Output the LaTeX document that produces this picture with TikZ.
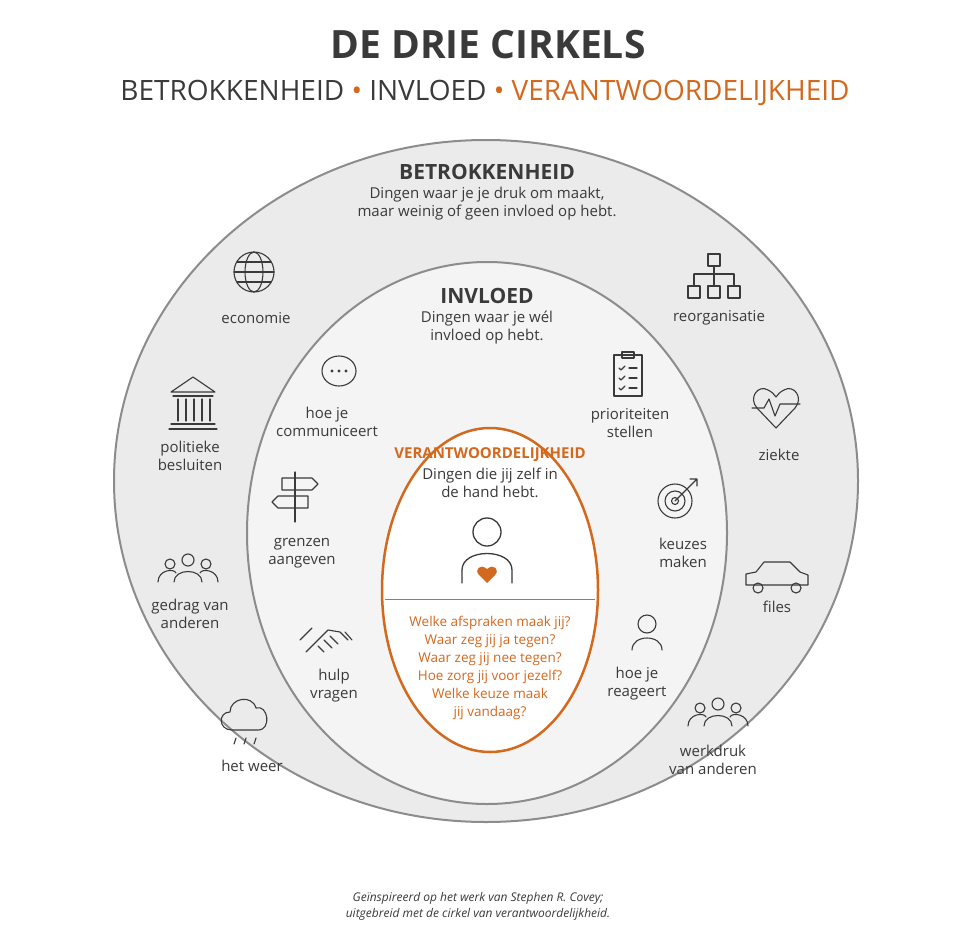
\documentclass[tikz,border=0pt]{standalone}
\usepackage{fontspec}
\setmainfont{Open Sans}
\usetikzlibrary{positioning}
\definecolor{oranje}{HTML}{D2691E}
\definecolor{rand}{HTML}{8C8C8C}
\definecolor{buiten}{HTML}{EBEBEB}
\definecolor{midden}{HTML}{F4F4F4}
\definecolor{inkt}{HTML}{3A3A3A}
\tikzset{
  lbl/.style={align=center,font=\fontsize{15}{18}\selectfont,text=inkt,inner sep=0.75pt},
  kop/.style={font=\fontsize{21}{24}\selectfont\bfseries,text=inkt,inner sep=0.75pt},
  icoon/.style={draw=inkt,line width=1.1pt,line cap=round,line join=round},
  vraag/.style={align=center,font=\fontsize{13.5}{18}\selectfont,text=oranje,inner sep=0.75pt}
}
\begin{document}
\begin{tikzpicture}[x=1pt,y=-1pt]
\useasboundingbox (0,0) rectangle (957,933);
\fill[white] (0,0) rectangle (957,933);

% circles
\draw[rand,line width=2pt,fill=buiten] (486,481) ellipse (372 and 341);
\draw[rand,line width=2pt,fill=midden] (487,533) ellipse (240 and 271);
\draw[oranje,line width=2.5pt,fill=white] (490,590) ellipse (108 and 162);
\coordinate (lijnL) at (385,599);
\coordinate (lijnR) at (595,599);
\draw[oranje,line width=1pt] (lijnL) -- (lijnR);

% title
\node[font=\fontsize{39}{44}\selectfont\bfseries,text=inkt] (titel) at (488,45) {DE DRIE CIRKELS};
\node[font=\fontsize{28}{33}\selectfont,text=inkt] (sub) at (485,93)
  {BETROKKENHEID \textcolor{oranje}{•} INVLOED \textcolor{oranje}{•} \textcolor{oranje}{VERANTWOORDELIJKHEID}};

% section headings
\node[kop] (betr) at (487,172) {BETROKKENHEID};
\node[lbl,below=5pt of betr] (betrtxt) {Dingen waar je je druk om maakt,\\maar weinig of geen invloed op hebt.};
\node[kop] (invl) at (487,296) {INVLOED};
\node[lbl,below=5pt of invl] (invltxt) {Dingen waar je wél\\invloed op hebt.};
\node[kop,text=oranje,font=\fontsize{15}{18}\selectfont\bfseries] (verant) at (490,455) {VERANTWOORDELIJKHEID};
\node[lbl,below=4pt of verant] (veranttxt) {Dingen die jij zelf in\\de hand hebt.};
\node[vraag] (vragen) at (490,668) {Welke afspraken maak jij?\\Waar zeg jij ja tegen?\\Waar zeg jij nee tegen?\\Hoe zorg jij voor jezelf?\\Welke keuze maak\\jij vandaag?};

% labels
\node[lbl] (econ) at (256,318) {economie};
\node[lbl] (pol) at (190,456) {politieke\\besluiten};
\node[lbl] (gedrag) at (190,614) {gedrag van\\anderen};
\node[lbl] (weer) at (252,766) {het weer};
\node[lbl] (reorg) at (719,318) {reorganisatie};
\node[lbl] (ziekte) at (779,455) {ziekte};
\node[lbl] (files) at (777,607) {files};
\node[lbl] (werk) at (713,760) {werkdruk\\van anderen};
\node[lbl] (comm) at (327,422) {hoe je\\communiceert};
\node[lbl] (grenz) at (302,553) {grenzen\\aangeven};
\node[lbl] (hulp) at (334,686) {hulp\\vragen};
\node[lbl] (prio) at (630,423) {prioriteiten\\stellen};
\node[lbl] (keuz) at (683,553) {keuzes\\maken};
\node[lbl] (reag) at (637,684) {hoe je\\reageert};
\node[font=\fontsize{12}{16}\selectfont\itshape,text=inkt,align=center] (bron) at (478,906)
  {Geïnspireerd op het werk van Stephen R. Covey;\\uitgebreid met de cirkel van verantwoordelijkheid.};

% icons
% globe
\draw[icoon] (254,272) circle (20);
\draw[icoon] (254,272) ellipse (9 and 20);
\draw[icoon] (234,272) -- (274,272) (237,262) -- (271,262) (237,282) -- (271,282);
% org chart
\draw[icoon] (708,254) rectangle (720,266);
\draw[icoon] (714,266) -- (714,274) (694,274) -- (734,274) (694,274) -- (694,286) (714,274) -- (714,286) (734,274) -- (734,286);
\draw[icoon] (688,286) rectangle (700,298) (708,286) rectangle (720,298) (728,286) rectangle (740,298);
% building
\draw[icoon] (171,392) -- (193,377) -- (215,392) -- cycle;
\draw[icoon] (173,396) -- (213,396) (171,424) -- (215,424) (169,429) -- (217,429);
\foreach \xx in {178,186,194,202,210} \draw[icoon] (\xx,399) -- (\xx,421);
% heart pulse
\draw[icoon] (776,428) -- (757,408) .. controls (748,398) and (758,384) .. (768,390) .. controls (772,392) and (774,394) .. (776,397) .. controls (778,394) and (780,392) .. (784,390) .. controls (794,384) and (804,398) .. (795,408) -- cycle;
\draw[icoon] (752,408) -- (764,408) -- (769,399) -- (775,416) -- (780,404) -- (800,404);
% people groups
\foreach \cx/\cy in {188/572,718/716} {
  \draw[icoon] (\cx,\cy-12) circle (6);
  \draw[icoon] (\cx-14,\cy+10) .. controls (\cx-14,\cy-4) and (\cx+14,\cy-4) .. (\cx+14,\cy+10);
  \draw[icoon] (\cx-18,\cy-8) circle (5) (\cx+18,\cy-8) circle (5);
  \draw[icoon] (\cx-30,\cy+10) .. controls (\cx-30,\cy-2) and (\cx-14,\cy-4) .. (\cx-12,\cy+1);
  \draw[icoon] (\cx+30,\cy+10) .. controls (\cx+30,\cy-2) and (\cx+14,\cy-4) .. (\cx+12,\cy+1);
}
% car
\draw[icoon] (746,585) -- (746,574) -- (756,572) -- (764,562) -- (790,562) -- (800,572) -- (808,575) -- (808,585) -- cycle;
\draw[icoon] (758,588) circle (5) (796,588) circle (5);
% cloud with rain
\draw[icoon] (232,730) .. controls (218,730) and (218,712) .. (230,712) .. controls (230,698) and (252,694) .. (256,708) .. controls (268,704) and (272,730) .. (258,730) -- cycle;
\draw[icoon] (236,738) -- (234,744) (246,738) -- (244,744) (256,738) -- (254,744);
% speech bubble
\draw[icoon] (339,371) ellipse (17 and 15);
\foreach \xx in {332,339,346} \fill[inkt] (\xx,371) circle (1.6);
% clipboard
\draw[icoon] (614,355) rectangle (642,396);
\draw[icoon] (622,352) rectangle (634,358);
\foreach \yy in {368,378,388} {\draw[icoon] (619,\yy) -- (621,\yy+2) -- (625,\yy-2); \draw[icoon] (629,\yy) -- (637,\yy);}
% signpost
\draw[icoon] (295,472) -- (295,522);
\draw[icoon] (282,478) -- (312,478) -- (318,484) -- (312,490) -- (282,490) -- cycle;
\draw[icoon] (308,496) -- (278,496) -- (272,502) -- (278,508) -- (308,508) -- cycle;
% target
\draw[icoon] (675,501) circle (17) (675,501) circle (10) (675,501) circle (3.5);
\draw[icoon] (675,501) -- (697,479) (690,479) -- (697,479) -- (697,486);
% handshake
\draw[icoon] (306,652) -- (316,642) -- (328,630) -- (340,632) -- (348,640);
\draw[icoon] (312,628) -- (300,640) (345,632) -- (352,640);
\draw[icoon] (318,646) -- (324,652) (324,640) -- (332,648) (330,636) -- (338,644);
% person
\draw[icoon] (647,624) circle (9);
\draw[icoon] (632,650) .. controls (632,634) and (662,634) .. (662,650);
% central person with heart
\draw[icoon,line width=1.3pt] (487,532) circle (14);
\draw[icoon,line width=1.3pt] (462,583) -- (462,570) .. controls (462,548) and (512,548) .. (512,570) -- (512,583);
\fill[oranje] (487,583) -- (479,575) .. controls (474,570) and (480,563) .. (487,569) .. controls (494,563) and (500,570) .. (495,575) -- cycle;
\end{tikzpicture}
\end{document}
